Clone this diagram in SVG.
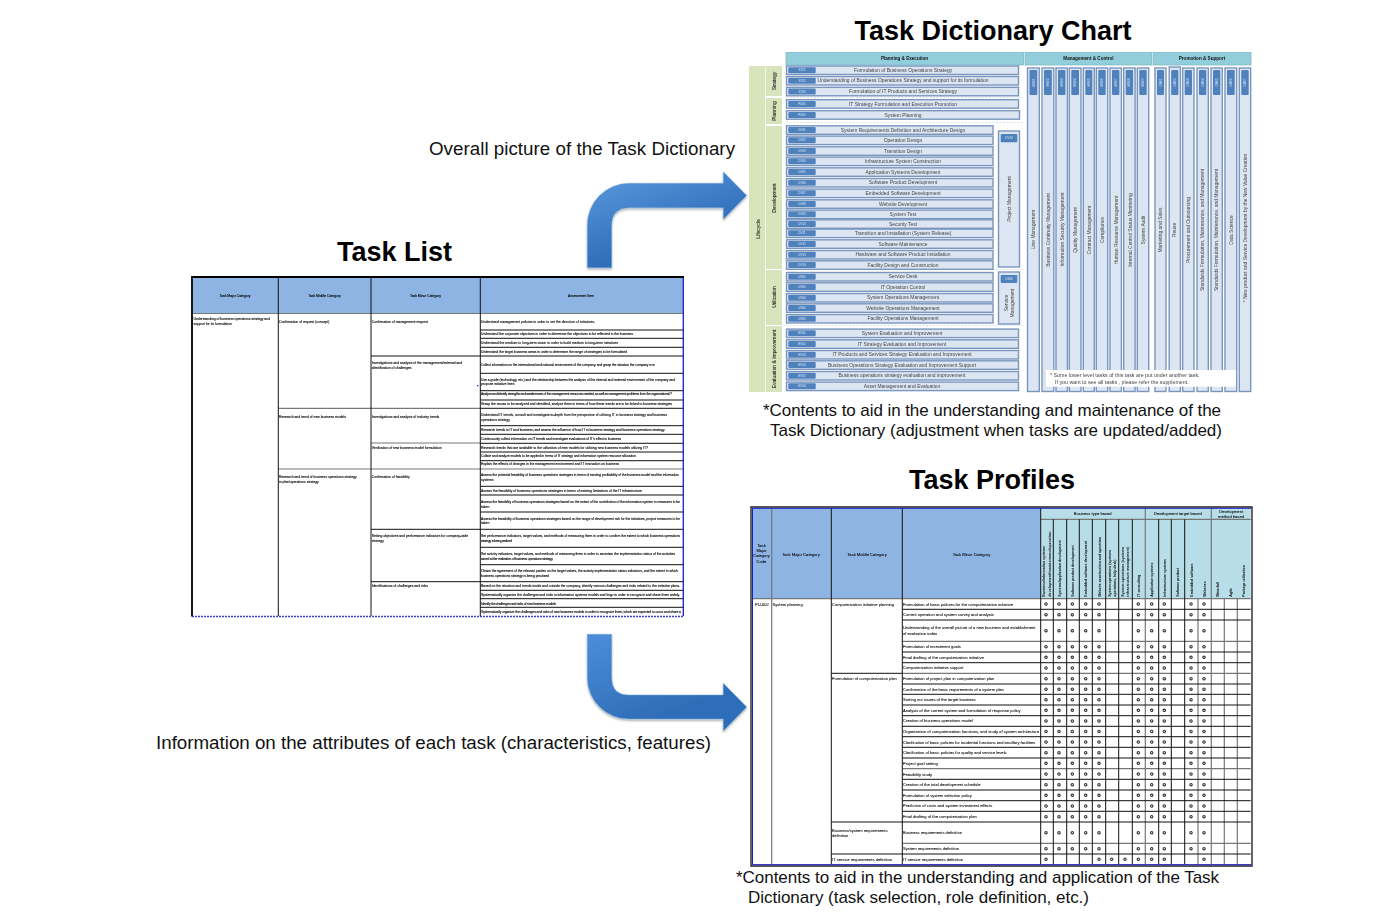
<svg xmlns="http://www.w3.org/2000/svg" width="1374" height="918" viewBox="0 0 1374 918">
<style>
text{font-family:"Liberation Sans",Arial,sans-serif}
.h1{font-size:27px;font-weight:700;fill:#000;text-anchor:middle}
.cap{font-size:18.75px;fill:#111}
.cap2{font-size:17px;fill:#111}
.hd{font-size:4.6px;font-weight:700;fill:#111;text-anchor:middle}
.hb{fill:#92cddc;stroke:#7fb9c9;stroke-width:.8}
.g{fill:#d7e4bc}
.cat{font-size:5px;fill:#222;stroke:#222;stroke-width:.08;text-anchor:middle}
.rw{fill:#dce6f2;stroke:#7a96bf;stroke-width:1.4}
.bd{fill:#4f81bd}
.r{font-size:4.95px;fill:#444;text-anchor:middle}
.c{font-size:3px;fill:#dbe7f5;text-anchor:middle}
.v{font-size:4.95px;fill:#444;text-anchor:middle}
.n{font-size:5.3px;fill:#444}
.tl{font-size:3.4px;fill:#000;stroke:#000;stroke-width:.1}
.tc{font-size:3.4px;fill:#000;stroke:#000;stroke-width:.1;text-anchor:middle}
.p{font-size:4.08px;fill:#000;stroke:#000;stroke-width:.06}
.pc{font-size:4.1px;fill:#000;stroke:#000;stroke-width:.06;text-anchor:middle}
.pv{font-size:3.5px;font-weight:700;fill:#111}
.ln{fill:none;stroke:#111;stroke-width:1}
.lg{fill:none;stroke:#777;stroke-width:1.2}
.dot{fill:#fff;stroke:#333;stroke-width:1.1}
.arrow{fill:url(#ag);stroke:#7aaee3;stroke-width:.7;stroke-opacity:.7;filter:url(#sh)}
.sep{stroke:#c9d9ea;stroke-width:.8;stroke-dasharray:2 1.5;fill:none}
</style>
<defs>
<linearGradient id="ag" gradientUnits="userSpaceOnUse" x1="590" y1="170" x2="620" y2="260"><stop offset="0" stop-color="#5c9ce0"/><stop offset="1" stop-color="#2f6db8"/></linearGradient>
<linearGradient id="ag2" gradientUnits="userSpaceOnUse" x1="590" y1="640" x2="625" y2="730"><stop offset="0" stop-color="#4b8cd6"/><stop offset="1" stop-color="#2f6db8"/></linearGradient>
<filter id="sh" x="-10%" y="-10%" width="120%" height="125%"><feDropShadow dx="0" dy="1.5" stdDeviation="1.3" flood-color="#000" flood-opacity=".35"/></filter>
<filter id="soft" x="-2%" y="-2%" width="104%" height="104%"><feGaussianBlur stdDeviation=".28"/></filter>
<filter id="soft2" x="-2%" y="-2%" width="104%" height="104%"><feGaussianBlur stdDeviation=".4"/></filter>
<g id="d10"><circle class="dot" cx="1046" cy="0" r="1.2"/><circle class="dot" cx="1059" cy="0" r="1.2"/><circle class="dot" cx="1072.3" cy="0" r="1.2"/><circle class="dot" cx="1085.7" cy="0" r="1.2"/><circle class="dot" cx="1099" cy="0" r="1.2"/><circle class="dot" cx="1138.3" cy="0" r="1.2"/><circle class="dot" cx="1151.7" cy="0" r="1.2"/><circle class="dot" cx="1164.3" cy="0" r="1.2"/><circle class="dot" cx="1191" cy="0" r="1.2"/><circle class="dot" cx="1204" cy="0" r="1.2"/></g>
</defs>
<rect width="1374" height="918" fill="#fff"/>

<g id="titles">
<text class="h1" x="993" y="40">Task Dictionary Chart</text>
<text class="h1" x="394.5" y="261">Task List</text>
<text class="h1" x="992" y="489">Task Profiles</text>
</g>
<g id="captions">
<text class="cap" x="429" y="155" textLength="306">Overall picture of the Task Dictionary</text>
<text class="cap" x="156" y="749" textLength="555">Information on the attributes of each task (characteristics, features)</text>
<text class="cap2" x="763" y="416" textLength="458">*Contents to aid in the understanding and maintenance of the</text>
<text class="cap2" x="770" y="436" textLength="452">Task Dictionary (adjustment when tasks are updated/added)</text>
<text class="cap2" x="736" y="883" textLength="483">*Contents to aid in the understanding and application of the Task</text>
<text class="cap2" x="748" y="903" textLength="341">Dictionary (task selection, role definition, etc.)</text>
</g>

<g id="connectors">
<path class="arrow" d="M587.3 267.7V225A41.7 41.7 0 0 1 629 183.3H723.3V171.7L746.7 195.5L723.3 219.3V207.7H630Q611.7 207.7 611.7 225V267.7Z"/>
<path class="arrow" style="fill:url(#ag2)" d="M587.3 634.3H611.7V678Q611.7 695 629 695H723.3V683.3L746.7 707L723.3 731V719H629A41.7 41 0 0 1 587.3 678Z"/>
</g>

<g id="task-dictionary-chart" filter="url(#soft2)">
<rect class="hb" x="786" y="52.5" width="237.5" height="12.5"/>
<rect class="hb" x="1025" y="52.5" width="126.5" height="12.5"/>
<rect class="hb" x="1153" y="52.5" width="98" height="12.5"/>
<text class="hd" x="904.5" y="60.3">Planning &amp; Execution</text>
<text class="hd" x="1088.5" y="60.3">Management &amp; Control</text>
<text class="hd" x="1202" y="60.3">Promotion &amp; Support</text>

<rect class="g" x="749" y="66" width="16" height="326"/>
<rect class="g" x="765.7" y="66" width="16.3" height="30"/>
<rect class="g" x="765.7" y="98" width="16.3" height="26"/>
<rect class="g" x="765.7" y="126" width="16.3" height="143"/>
<rect class="g" x="765.7" y="270" width="16.3" height="55"/>
<rect class="g" x="765.7" y="326" width="16.3" height="66"/>
<text class="cat" transform="translate(759.5 229) rotate(-90)">Lifecycle</text>
<text class="cat" transform="translate(775.7 81) rotate(-90)">Strategy</text>
<text class="cat" transform="translate(775.7 111) rotate(-90)">Planning</text>
<text class="cat" transform="translate(775.7 198) rotate(-90)">Development</text>
<text class="cat" transform="translate(775.7 297) rotate(-90)">Utilization</text>
<text class="cat" transform="translate(775.7 359) rotate(-90)">Evaluation &amp; Improvement</text>

<path class="sep" d="M786 97.7H1023M786 122.5H1023M786 269.5H1023M786 325.5H1023"/>

<g id="rows-strategy">
<rect class="rw" x="786.5" y="66" width="232" height="8.5"/><rect class="bd" x="788.3" y="67.2" width="27.4" height="6" rx="1"/><text class="c" x="802" y="71.2">ST01</text><text class="r" x="903" y="71.8">Formulation of Business Operations Strategy</text>
<rect class="rw" x="786.5" y="76.5" width="232" height="8.5"/><rect class="bd" x="788.3" y="77.7" width="27.4" height="6" rx="1"/><text class="c" x="802" y="81.7">ST02</text><text class="r" x="903" y="82.4">Understanding of Business Operations Strategy and support for its formulation</text>
<rect class="rw" x="786.5" y="87.3" width="232" height="8.5"/><rect class="bd" x="788.3" y="88.5" width="27.4" height="6" rx="1"/><text class="c" x="802" y="92.5">ST03</text><text class="r" x="903" y="93.2">Formulation of IT Products and Services Strategy</text>
</g>
<g id="rows-planning">
<rect class="rw" x="786.5" y="99.7" width="232" height="8.5"/><rect class="bd" x="788.3" y="100.9" width="27.4" height="6" rx="1"/><text class="c" x="802" y="104.9">PU01</text><text class="r" x="903" y="105.6">IT Strategy Formulation and Execution Promotion</text>
<rect class="rw" x="786.5" y="110.7" width="233" height="8.5"/><rect class="bd" x="788.3" y="111.9" width="27.4" height="6" rx="1"/><text class="c" x="802" y="115.9">PU02</text><text class="r" x="903" y="116.6">System Planning</text>
</g>
<g id="rows-development">
<rect class="rw" x="786.5" y="125.8" width="206.5" height="8.5"/><rect class="bd" x="788.3" y="127" width="27.4" height="6" rx="1"/><text class="c" x="802" y="131">DV01</text><text class="r" x="903" y="131.7">System Requirements Definition and Architecture Design</text>
<rect class="rw" x="786.5" y="136.1" width="206.5" height="8.5"/><rect class="bd" x="788.3" y="137.3" width="27.4" height="6" rx="1"/><text class="c" x="802" y="141.3">DV02</text><text class="r" x="903" y="142">Operation Design</text>
<rect class="rw" x="786.5" y="146.8" width="206.5" height="8.5"/><rect class="bd" x="788.3" y="148" width="27.4" height="6" rx="1"/><text class="c" x="802" y="152">DV03</text><text class="r" x="903" y="152.7">Transition Design</text>
<rect class="rw" x="786.5" y="157.1" width="206.5" height="8.5"/><rect class="bd" x="788.3" y="158.3" width="27.4" height="6" rx="1"/><text class="c" x="802" y="162.3">DV04</text><text class="r" x="903" y="163">Infrastructure System Construction</text>
<rect class="rw" x="786.5" y="167.8" width="206.5" height="8.5"/><rect class="bd" x="788.3" y="169" width="27.4" height="6" rx="1"/><text class="c" x="802" y="173">DV05</text><text class="r" x="903" y="173.7">Application Systems Development</text>
<rect class="rw" x="786.5" y="178.5" width="206.5" height="8.5"/><rect class="bd" x="788.3" y="179.7" width="27.4" height="6" rx="1"/><text class="c" x="802" y="183.7">DV06</text><text class="r" x="903" y="184.4">Software Product Development</text>
<rect class="rw" x="786.5" y="189.1" width="206.5" height="8.5"/><rect class="bd" x="788.3" y="190.3" width="27.4" height="6" rx="1"/><text class="c" x="802" y="194.3">DV07</text><text class="r" x="903" y="195">Embedded Software Development</text>
<rect class="rw" x="786.5" y="199.8" width="206.5" height="8.5"/><rect class="bd" x="788.3" y="201" width="27.4" height="6" rx="1"/><text class="c" x="802" y="205">DV08</text><text class="r" x="903" y="205.7">Website Development</text>
<rect class="rw" x="786.5" y="210.1" width="206.5" height="8.5"/><rect class="bd" x="788.3" y="211.3" width="27.4" height="6" rx="1"/><text class="c" x="802" y="215.3">DV09</text><text class="r" x="903" y="216">System Test</text>
<rect class="rw" x="786.5" y="219.8" width="206.5" height="8.5"/><rect class="bd" x="788.3" y="221" width="27.4" height="6" rx="1"/><text class="c" x="802" y="225">DV10</text><text class="r" x="903" y="225.7">Security Test</text>
<rect class="rw" x="786.5" y="229.1" width="206.5" height="8.5"/><rect class="bd" x="788.3" y="230.3" width="27.4" height="6" rx="1"/><text class="c" x="802" y="234.3">DV11</text><text class="r" x="903" y="235">Transition and Installation (System Release)</text>
<rect class="rw" x="786.5" y="239.8" width="206.5" height="8.5"/><rect class="bd" x="788.3" y="241" width="27.4" height="6" rx="1"/><text class="c" x="802" y="245">DV12</text><text class="r" x="903" y="245.7">Software Maintenance</text>
<rect class="rw" x="786.5" y="250.5" width="206.5" height="8.5"/><rect class="bd" x="788.3" y="251.7" width="27.4" height="6" rx="1"/><text class="c" x="802" y="255.7">DV13</text><text class="r" x="903" y="256.4">Hardware and Software Product Installation</text>
<rect class="rw" x="786.5" y="260.8" width="206.5" height="8.5"/><rect class="bd" x="788.3" y="262" width="27.4" height="6" rx="1"/><text class="c" x="802" y="266">DV14</text><text class="r" x="903" y="266.7">Facility Design and Construction</text>
<rect class="rw" x="998.5" y="131" width="21" height="136"/><rect class="bd" x="1000.7" y="134" width="16.6" height="8.3" rx="1"/><text class="c" x="1009" y="139.2">DV14</text>
<text class="v" transform="translate(1010.5 199) rotate(-90)">Project Management</text>
</g>
<g id="rows-utilization">
<rect class="rw" x="786.5" y="272.5" width="206.5" height="8.5"/><rect class="bd" x="788.3" y="273.7" width="27.4" height="6" rx="1"/><text class="c" x="802" y="277.7">US01</text><text class="r" x="903" y="278.4">Service Desk</text>
<rect class="rw" x="786.5" y="282.8" width="206.5" height="8.5"/><rect class="bd" x="788.3" y="284" width="27.4" height="6" rx="1"/><text class="c" x="802" y="288">US02</text><text class="r" x="903" y="288.7">IT Operation Control</text>
<rect class="rw" x="786.5" y="293.5" width="206.5" height="8.5"/><rect class="bd" x="788.3" y="294.7" width="27.4" height="6" rx="1"/><text class="c" x="802" y="298.7">US03</text><text class="r" x="903" y="299.4">System Operations Management</text>
<rect class="rw" x="786.5" y="303.8" width="206.5" height="8.5"/><rect class="bd" x="788.3" y="305" width="27.4" height="6" rx="1"/><text class="c" x="802" y="309">US04</text><text class="r" x="903" y="309.7">Website Operations Management</text>
<rect class="rw" x="786.5" y="314.5" width="206.5" height="8.5"/><rect class="bd" x="788.3" y="315.7" width="27.4" height="6" rx="1"/><text class="c" x="802" y="319.7">US05</text><text class="r" x="903" y="320.4">Facility Operations Management</text>
<rect class="rw" x="998.5" y="272" width="21" height="52"/><rect class="bd" x="1000.7" y="275" width="16.6" height="8" rx="1"/><text class="c" x="1009" y="280">US06</text>
<text class="v" transform="translate(1007.5 303) rotate(-90)">Service</text>
<text class="v" transform="translate(1013.5 303) rotate(-90)">Management</text>
</g>
<g id="rows-evaluation">
<rect class="rw" x="786.5" y="329.1" width="232" height="8.5"/><rect class="bd" x="788.3" y="330.3" width="27.4" height="6" rx="1"/><text class="c" x="802" y="334.3">EV01</text><text class="r" x="902" y="335">System Evaluation and Improvement</text>
<rect class="rw" x="786.5" y="339.8" width="232" height="8.5"/><rect class="bd" x="788.3" y="341" width="27.4" height="6" rx="1"/><text class="c" x="802" y="345">EV02</text><text class="r" x="902" y="345.7">IT Strategy Evaluation and Improvement</text>
<rect class="rw" x="786.5" y="350.5" width="232" height="8.5"/><rect class="bd" x="788.3" y="351.7" width="27.4" height="6" rx="1"/><text class="c" x="802" y="355.7">EV03</text><text class="r" x="902" y="356.4">IT Products and Services Strategy Evaluation and Improvement</text>
<rect class="rw" x="786.5" y="360.8" width="232" height="8.5"/><rect class="bd" x="788.3" y="362" width="27.4" height="6" rx="1"/><text class="c" x="802" y="366">EV04</text><text class="r" x="902" y="366.7">Business Operations Strategy Evaluation and Improvement Support</text>
<rect class="rw" x="786.5" y="371.5" width="232" height="8.5"/><rect class="bd" x="788.3" y="372.7" width="27.4" height="6" rx="1"/><text class="c" x="802" y="376.7">EV05</text><text class="r" x="902" y="377.4">Business operations strategy evaluation and improvement</text>
<rect class="rw" x="786.5" y="382.1" width="232" height="8.5"/><rect class="bd" x="788.3" y="383.3" width="27.4" height="6" rx="1"/><text class="c" x="802" y="387.3">EV06</text><text class="r" x="902" y="388">Asset Management and Evaluation</text>
</g>
<g id="cols-management">
<rect class="rw" x="1027.5" y="68" width="11.8" height="323.5"/><rect class="bd" x="1029.5" y="70" width="7.8" height="25" rx="1"/><text class="c" transform="translate(1034.5 82.5) rotate(-90)">MG01</text><text class="v" transform="translate(1035.2 229.5) rotate(-90)">Line Management</text>
<rect class="rw" x="1042" y="68" width="11.8" height="323.5"/><rect class="bd" x="1044" y="70" width="7.8" height="25" rx="1"/><text class="c" transform="translate(1049 82.5) rotate(-90)">MG02</text><text class="v" transform="translate(1049.5 230) rotate(-90)">Business Continuity Management</text>
<rect class="rw" x="1056" y="68" width="11.4" height="323.5"/><rect class="bd" x="1058" y="70" width="7.4" height="25" rx="1"/><text class="c" transform="translate(1062.8 82.5) rotate(-90)">MG03</text><text class="v" transform="translate(1063.5 229.5) rotate(-90)">Information Security Management</text>
<rect class="rw" x="1069.3" y="68" width="11.7" height="323.5"/><rect class="bd" x="1071.3" y="70" width="7.7" height="25" rx="1"/><text class="c" transform="translate(1076.2 82.5) rotate(-90)">MG04</text><text class="v" transform="translate(1077.2 230) rotate(-90)">Quality Management</text>
<rect class="rw" x="1083.3" y="68" width="11" height="323.5"/><rect class="bd" x="1085.3" y="70" width="7" height="25" rx="1"/><text class="c" transform="translate(1089.8 82.5) rotate(-90)">MG05</text><text class="v" transform="translate(1091.2 230) rotate(-90)">Contract Management</text>
<rect class="rw" x="1096.3" y="68" width="11.4" height="323.5"/><rect class="bd" x="1098.3" y="70" width="7.4" height="25" rx="1"/><text class="c" transform="translate(1103 82.5) rotate(-90)">MG06</text><text class="v" transform="translate(1104.2 230) rotate(-90)">Compliance</text>
<rect class="rw" x="1110" y="68" width="11.4" height="323.5"/><rect class="bd" x="1112" y="70" width="7.4" height="25" rx="1"/><text class="c" transform="translate(1116.7 82.5) rotate(-90)">MG07</text><text class="v" transform="translate(1117.5 230) rotate(-90)">Human Resource Management</text>
<rect class="rw" x="1123.7" y="68" width="11.4" height="323.5"/><rect class="bd" x="1125.7" y="70" width="7.4" height="25" rx="1"/><text class="c" transform="translate(1130.4 82.5) rotate(-90)">MG08</text><text class="v" transform="translate(1131.5 230) rotate(-90)">Internal Control Status Monitoring</text>
<rect class="rw" x="1137.3" y="68" width="11.4" height="323.5"/><rect class="bd" x="1139.3" y="70" width="7.4" height="25" rx="1"/><text class="c" transform="translate(1144 82.5) rotate(-90)">MG09</text><text class="v" transform="translate(1144.5 230) rotate(-90)">System Audit</text>
</g>
<g id="cols-promotion">
<rect class="rw" x="1155" y="68" width="11" height="323.5"/><rect class="bd" x="1157" y="70" width="7" height="25" rx="1"/><text class="c" transform="translate(1161.5 82.5) rotate(-90)">OM01</text><text class="v" transform="translate(1162.2 230) rotate(-90)">Marketing and Sales</text>
<rect class="rw" x="1169.2" y="67" width="11.2" height="324.5"/><rect class="bd" x="1171.2" y="70" width="7.2" height="25" rx="1"/><text class="c" transform="translate(1175.8 82.5) rotate(-90)">OM02</text><text class="v" transform="translate(1176.2 230) rotate(-90)">Reuse</text>
<rect class="rw" x="1182.7" y="68" width="11.3" height="323.5"/><rect class="bd" x="1184.7" y="70" width="7.3" height="25" rx="1"/><text class="c" transform="translate(1189.3 82.5) rotate(-90)">OM03</text><text class="v" transform="translate(1189.8 230) rotate(-90)">Procurement and Outsourcing</text>
<rect class="rw" x="1197" y="68" width="11.3" height="323.5"/><rect class="bd" x="1199" y="70" width="7.3" height="25" rx="1"/><text class="c" transform="translate(1203.6 82.5) rotate(-90)">OM04</text><text class="v" transform="translate(1204.2 230) rotate(-90)">Standards Formulation, Maintenance, and Management</text>
<rect class="rw" x="1211" y="68" width="11.3" height="323.5"/><rect class="bd" x="1213" y="70" width="7.3" height="25" rx="1"/><text class="c" transform="translate(1217.6 82.5) rotate(-90)">OM05</text><text class="v" transform="translate(1218.2 230) rotate(-90)">Standards Formulation, Maintenance, and Management</text>
<rect class="rw" x="1225" y="68" width="11.7" height="323.5"/><rect class="bd" x="1227" y="70" width="7.7" height="25" rx="1"/><text class="c" transform="translate(1231.8 82.5) rotate(-90)">OM06</text><text class="v" transform="translate(1232.5 230) rotate(-90)">Data Science</text>
<rect class="rw" x="1239.3" y="68" width="11.4" height="323.5"/><rect class="bd" x="1241.3" y="70" width="7.4" height="25" rx="1"/><text class="c" transform="translate(1246 82.5) rotate(-90)">OM07</text><text class="v" transform="translate(1247.2 228) rotate(-90)">* New product and Service Development by  the New Value Creation</text>
</g>
<rect x="1046" y="370" width="190" height="16.7" fill="#fff"/>
<text class="n" x="1050" y="377">* Some lower level tasks of this task are put under another task.</text>
<text class="n" x="1055" y="383.5">If you want to see all tasks , please refer the supplement.</text>
</g>

<g id="task-list" filter="url(#soft)">
<rect x="193" y="278" width="490" height="338" fill="#fff"/>
<rect x="193" y="278" width="490" height="35.5" fill="#8db4e2"/>
<path class="lg" d="M193 313.5H683M278.3 408.3H480M371 443H480M278.3 469H683"/>
<path class="ln" d="M278.3 278V616M371 278V616M480.3 278V616M371 356H683M480.3 330H683M480.3 338.3H683M480.3 347.3H683M480.3 373.3H683M480.3 390.7H683M480.3 400H683M480.3 408.3H683M480.3 425.7H683M480.3 434.3H683M480.3 443.3H683M480.3 452H683M480.3 460.7H683M480.3 486.3H683M480.3 495H683M480.3 512H683M371 529.3H683M480.3 547.3H683M480.3 564.7H683M371 581.7H683M480.3 590.3H683M480.3 598.7H683M480.3 607.3H683"/>
<path d="M192 616.5V277H684" fill="none" stroke="#000" stroke-width="1.8"/>
<path d="M683.3 278V616" fill="none" stroke="#2a2ad0" stroke-width="1.4"/>
<path d="M192 616.5H684" fill="none" stroke="#3a3ac8" stroke-width="1.6" stroke-dasharray="2 1"/>
<rect x="477" y="385" width="1.3" height="1.3" fill="#22c"/>
<text class="tc" x="235" y="297">Task Major Category</text>
<text class="tc" x="324.5" y="297">Task Middle Category</text>
<text class="tc" x="425.5" y="297">Task Minor Category</text>
<text class="tc" x="581" y="297">Assessment Item</text>
<text class="tl" x="193.5" y="320.2">Understanding of business operations strategy and</text>
<text class="tl" x="193.5" y="325">support for its formulation</text>
<text class="tl" x="279" y="322.5">Confirmation of request (concept)</text>
<text class="tl" x="279" y="417.5">Research and trend of new business models</text>
<text class="tl" x="279" y="477.5">Research and trend of business operations strategy</text>
<text class="tl" x="279" y="482.5">in plan/operations strategy</text>
<text class="tl" x="371.8" y="322.5">Confirmation of management request</text>
<text class="tl" x="371.8" y="364.2">Investigations and analysis of the management/external and</text>
<text class="tl" x="371.8" y="368.7">identification of challenges</text>
<text class="tl" x="371.8" y="417.5">Investigations and analysis of industry trends</text>
<text class="tl" x="371.8" y="448.5">Verification of new business model formulation</text>
<text class="tl" x="371.8" y="478.2">Confirmation of feasibility</text>
<text class="tl" x="371.8" y="537">Setting objectives and performance indicators for company-wide</text>
<text class="tl" x="371.8" y="542">strategy</text>
<text class="tl" x="371.8" y="586.5">Identifications of challenges and risks</text>
<text class="tl" x="481" y="322.5" textLength="114">Understand management policies in order to set the direction of initiatives.</text>
<text class="tl" x="481" y="335" textLength="152">Understand the corporate objectives in order to determine the objectives to be reflected in the business</text>
<text class="tl" x="481" y="343.8" textLength="137">Understand the medium to long-term vision in order to build medium to long-term initiatives</text>
<text class="tl" x="481" y="352.5" textLength="146">Understand the target business areas in order to determine the range of strategies to be formulated</text>
<text class="tl" x="481" y="365.5" textLength="174">Collect information on the international and national environment of the company, and grasp the situation the company is in</text>
<text class="tl" x="481" y="380.8" textLength="194">Use a guide (technology, etc.) and the relationship between the analysis of the internal and external environment of the company and</text>
<text class="tl" x="481" y="385.2">propose initiative lines</text>
<text class="tl" x="481" y="395" textLength="191">Analyze and identify strengths and weaknesses of the management resources needed, as well as management problems from the organizational ?</text>
<text class="tl" x="481" y="404.8" textLength="191">Grasp the issues to be analyzed and identified, analyze them in terms of how these trends are to be linked to business strategies</text>
<text class="tl" x="481" y="415.5" textLength="186">Understand IT trends, consult and investigate in-depth from the perspective of utilizing IT in business strategy and business</text>
<text class="tl" x="481" y="420.8">operations strategy</text>
<text class="tl" x="481" y="430.8" textLength="184">Research trends in IT and business, and assess the influence of how IT in business strategy and business operations strategy.</text>
<text class="tl" x="481" y="439.5" textLength="140">Continuously collect information on IT trends and investigate evaluations of IT's effect in business</text>
<text class="tl" x="481" y="448.5" textLength="167">Research trends that are available to the utilization of new models for utilizing new business models utilizing IT?</text>
<text class="tl" x="481" y="456.8" textLength="155">Collate and analyze models to be applied in terms of IT strategy and information system resource allocation</text>
<text class="tl" x="481" y="465" textLength="138">Explain the effects of changes in the management environment and IT innovation on business</text>
<text class="tl" x="481" y="475.8" textLength="198">Assess the potential feasibility of business operations strategies in terms of existing profitability of the business model and the information</text>
<text class="tl" x="481" y="480.8">systems</text>
<text class="tl" x="481" y="491.5" textLength="161">Assess the feasibility of business operations strategies in terms of existing limitations of the IT infrastructure</text>
<text class="tl" x="481" y="502.5" textLength="199">Assess the feasibility of business operations strategies based on the extent of the contribution of the information system to measures to be</text>
<text class="tl" x="481" y="507.5">taken</text>
<text class="tl" x="481" y="519.5" textLength="199">Assess the feasibility of business operations strategies based on the range of development risk for the initiatives, project measures to be</text>
<text class="tl" x="481" y="524.2">taken</text>
<text class="tl" x="481" y="536.8" textLength="199">Set performance indicators, target values, and methods of measuring them in order to confirm the extent to which business operations</text>
<text class="tl" x="481" y="541.8" textLength="31">strategy is being realized</text>
<text class="tl" x="481" y="554.8" textLength="194">Set activity indicators, target values, and methods of measuring them in order to ascertain the implementation status of the activities</text>
<text class="tl" x="481" y="559.5" textLength="72">aimed at the realization of business operations strategy</text>
<text class="tl" x="481" y="571.8" textLength="197">Obtain the agreement of the relevant parties on the target values, the activity implementation status indicators, and the extent to which</text>
<text class="tl" x="481" y="576.8" textLength="68">business operations strategy is being practised</text>
<text class="tl" x="481" y="586.5" textLength="199">Based on the situation and trends inside and outside the company, identify various challenges and risks related to the initiative plans.</text>
<text class="tl" x="481" y="595.8" textLength="199">Systematically organize the challenges and risks in information systems models and lingo in order to recognize and share them widely.</text>
<text class="tl" x="481" y="604.8" textLength="75">Identify the challenges and risks of new business models</text>
<text class="tl" x="481" y="613.1" textLength="200">Systematically organize the challenges and risks of new business models in order to recognize them, which are expected to occur and share a</text>
</g>

<g id="task-profiles" filter="url(#soft)">
<rect x="752" y="508" width="499" height="356" fill="#fff"/>
<rect x="752" y="508" width="288.7" height="90.7" fill="#8db4e2"/>
<rect x="1040.7" y="508" width="210" height="90.7" fill="#b7dee8"/>
<path class="lg" d="M1040.7 519.3H1250.7M752 598.7H1250.7M771.7 508V864M902.3 641.3H1250.7M902.3 673.3H1250.7M902.3 768.7H1250.7M902.3 843.3H1250.7M1145.3 508V864M1211.3 508V864M1198 598.7V864M1224.3 598.7V864M1237.3 598.7V864"/>
<path class="ln" d="M831.3 508V864M902.3 508V864M1040.7 508V864M1053.3 519.3V864M1066.7 519.3V864M1079.3 519.3V864M1092.3 519.3V864M1105.7 519.3V864M1118.7 519.3V864M1132.3 519.3V864M1158.7 519.3V864M1171.3 519.3V864M1184.7 519.3V864M902.3 609.3H1250.7M902.3 620H1250.7M902.3 652H1250.7M902.3 662.7H1250.7M902.3 684H1250.7M902.3 694.3H1250.7M902.3 705H1250.7M902.3 715.7H1250.7M902.3 726.3H1250.7M902.3 736.7H1250.7M902.3 747.3H1250.7M902.3 758H1250.7M902.3 779.3H1250.7M902.3 790H1250.7M902.3 800.7H1250.7M902.3 811.3H1250.7M831.3 822H1250.7M902.3 854H1250.7M831.3 673.3H902.3M831.3 854H902.3"/>
<path d="M751 866V507H1252V866Z" fill="none" stroke="#222" stroke-width="1.4"/>
<path d="M752.5 864.5V508.3H1251" fill="none" stroke="#1f1fc8" stroke-width="1"/>
<path d="M752 864.6H1251" fill="none" stroke="#3a3ac8" stroke-width="1.3"/>
<text class="pc" x="761.5" y="546.5">Task</text>
<text class="pc" x="761.5" y="551.5">Major</text>
<text class="pc" x="761.5" y="557">Category</text>
<text class="pc" x="761.5" y="562.5">Code</text>
<text class="pc" x="801" y="555.5">Task Major Category</text>
<text class="pc" x="867" y="555.5">Task Middle Category</text>
<text class="pc" x="971.5" y="555.5">Task Minor Category</text>
<text class="pc" x="1092.7" y="515.3">Business type based</text>
<text class="pc" x="1177.7" y="515.3">Development target based</text>
<text class="pc" x="1231" y="513">Development</text>
<text class="pc" x="1231" y="517.8">method based</text>
<text class="pv" transform="translate(1045 596.7) rotate(-90)">Business/information systems</text>
<text class="pv" transform="translate(1050.5 596.7) rotate(-90)" textLength="65">development/maintenance/operation</text>
<text class="pv" transform="translate(1061 596.7) rotate(-90)">Systems/application development</text>
<text class="pv" transform="translate(1074 596.7) rotate(-90)">Software product development</text>
<text class="pv" transform="translate(1087 596.7) rotate(-90)">Embedded software development</text>
<text class="pv" transform="translate(1100.5 596.7) rotate(-90)">Website construction and operation</text>
<text class="pv" transform="translate(1110.5 596.7) rotate(-90)" textLength="47">System operations (systems</text>
<text class="pv" transform="translate(1115.5 596.7) rotate(-90)">operations, help desk)</text>
<text class="pv" transform="translate(1123.5 596.7) rotate(-90)" textLength="50">System operations (systems</text>
<text class="pv" transform="translate(1128.5 596.7) rotate(-90)" textLength="50">infrastructure management)</text>
<text class="pv" transform="translate(1140 596.7) rotate(-90)">IT consulting</text>
<text class="pv" transform="translate(1153 596.7) rotate(-90)">Application systems</text>
<text class="pv" transform="translate(1166 596.7) rotate(-90)">Infrastructure systems</text>
<text class="pv" transform="translate(1179 596.7) rotate(-90)">Software product</text>
<text class="pv" transform="translate(1192.5 596.7) rotate(-90)">Embedded software</text>
<text class="pv" transform="translate(1205.5 596.7) rotate(-90)">Websites</text>
<text class="pv" transform="translate(1219 596.7) rotate(-90)">Waterfall</text>
<text class="pv" transform="translate(1232 596.7) rotate(-90)">Agile</text>
<text class="pv" transform="translate(1245 596.7) rotate(-90)">Package utilization</text>
<text class="p" x="755" y="605.5">PU-002</text>
<text class="p" x="772.5" y="605.5">System planning</text>
<text class="p" x="832" y="605.5">Computerization initiative planning</text>
<text class="p" x="832" y="680">Formulation of computerization plan</text>
<text class="p" x="832" y="831.5">Business/system requirements</text>
<text class="p" x="832" y="836.5">definition</text>
<text class="p" x="832" y="860.5" textLength="60">IT service requirements definition</text>
<text class="p" x="903" y="605.5">Formulation of basic policies for the computerization initiative</text>
<text class="p" x="903" y="616">Current operation and system survey and analysis</text>
<text class="p" x="903" y="628.5">Understanding of the overall picture of a new business and establishment</text>
<text class="p" x="903" y="634.5">of evaluation index</text>
<text class="p" x="903" y="648">Formulation of investment goals</text>
<text class="p" x="903" y="658.7">Final drafting of the computerization initiative</text>
<text class="p" x="903" y="669.3">Computerization initiative support</text>
<text class="p" x="903" y="680">Formulation of project plan in computerization plan</text>
<text class="p" x="903" y="690.5">Confirmation of the basic requirements of a system plan</text>
<text class="p" x="903" y="701">Sorting out issues of the target business</text>
<text class="p" x="903" y="711.7">Analysis of the current system and formulation of response policy</text>
<text class="p" x="903" y="722.3">Creation of business operations model</text>
<text class="p" x="903" y="733" textLength="136">Organization of computerization functions, and study of system architecture</text>
<text class="p" x="903" y="743.5" textLength="132">Clarification of basic policies for incidental functions and ancillary facilities</text>
<text class="p" x="903" y="754">Clarification of basic policies for quality and service levels</text>
<text class="p" x="903" y="764.7">Project goal setting</text>
<text class="p" x="903" y="775.5">Feasibility study</text>
<text class="p" x="903" y="786">Creation of the total development schedule</text>
<text class="p" x="903" y="796.7">Formulation of system selection policy</text>
<text class="p" x="903" y="807.3">Prediction of costs and system investment effects</text>
<text class="p" x="903" y="818">Final drafting of the computerization plan</text>
<text class="p" x="903" y="834">Business requirements definition</text>
<text class="p" x="903" y="850">System requirements definition</text>
<text class="p" x="903" y="860.5">IT service requirements definition</text>
<use href="#d10" y="604"/><use href="#d10" y="614.7"/><use href="#d10" y="630.7"/><use href="#d10" y="646.7"/><use href="#d10" y="657.3"/><use href="#d10" y="668"/><use href="#d10" y="678.7"/><use href="#d10" y="689.2"/><use href="#d10" y="699.7"/><use href="#d10" y="710.3"/><use href="#d10" y="721"/><use href="#d10" y="731.5"/><use href="#d10" y="742"/><use href="#d10" y="752.7"/><use href="#d10" y="763.3"/><use href="#d10" y="774"/><use href="#d10" y="784.7"/><use href="#d10" y="795.3"/><use href="#d10" y="806"/><use href="#d10" y="816.7"/><use href="#d10" y="832.7"/><use href="#d10" y="848.7"/>
<g id="last-row-dots"><circle class="dot" cx="1046" cy="859.2" r="1.2"/><circle class="dot" cx="1099" cy="859.2" r="1.2"/><circle class="dot" cx="1111.7" cy="859.2" r="1.2"/><circle class="dot" cx="1125" cy="859.2" r="1.2"/><circle class="dot" cx="1138.3" cy="859.2" r="1.2"/><circle class="dot" cx="1151.7" cy="859.2" r="1.2"/><circle class="dot" cx="1164.3" cy="859.2" r="1.2"/><circle class="dot" cx="1204" cy="859.2" r="1.2"/></g>
</g>
</svg>
